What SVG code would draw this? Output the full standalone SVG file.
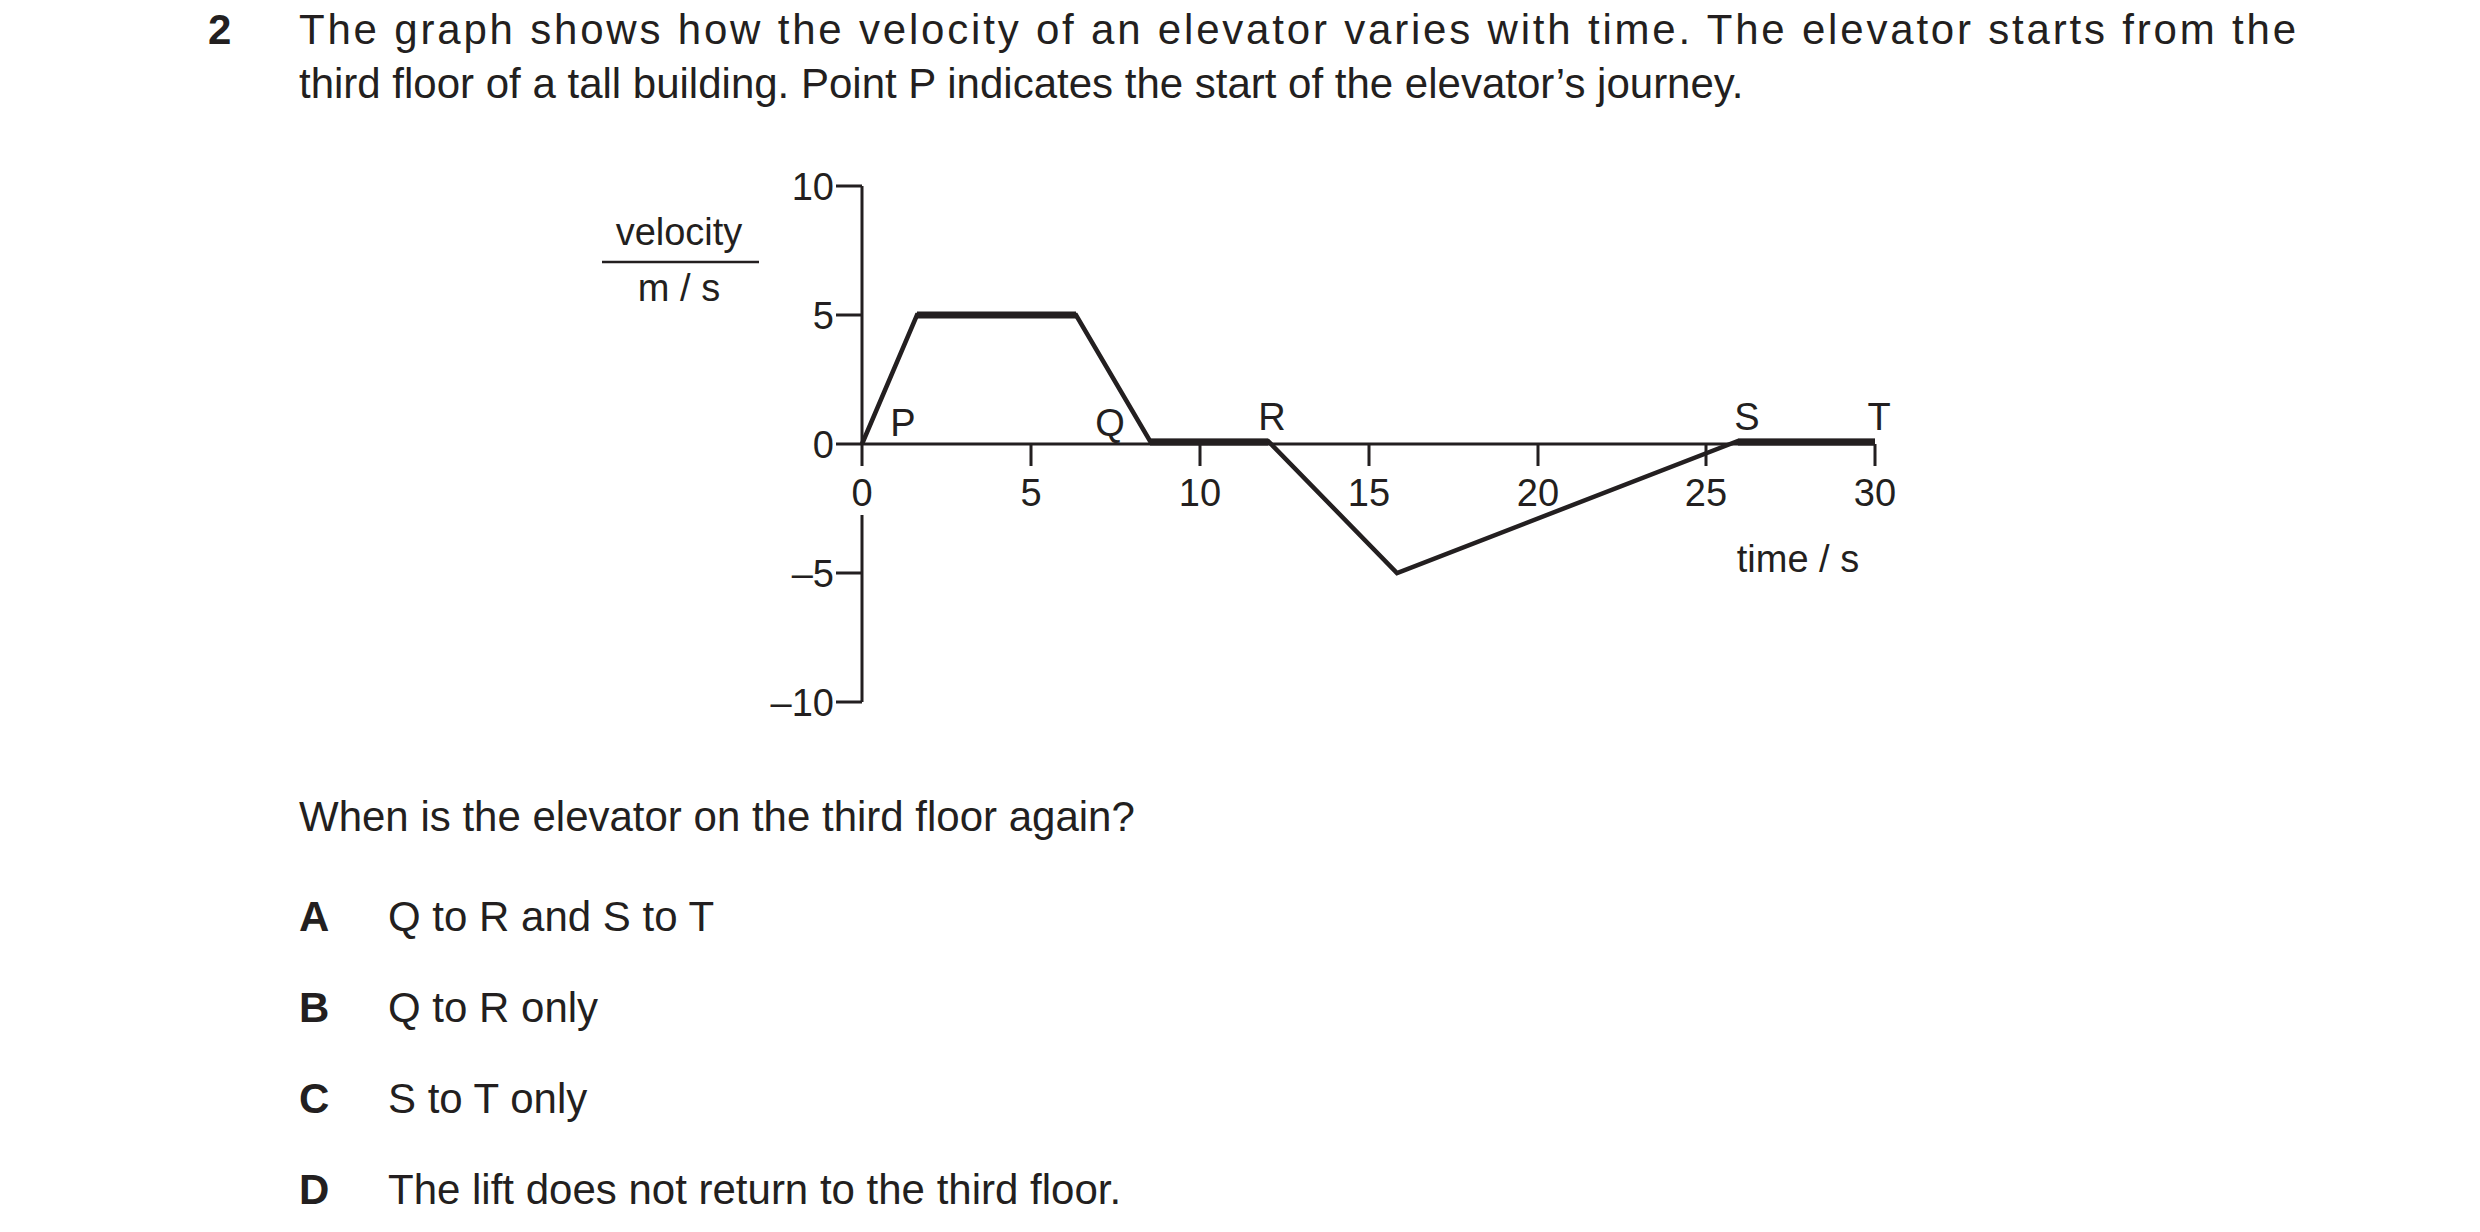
<svg xmlns="http://www.w3.org/2000/svg" width="2480" height="1232" viewBox="0 0 2480 1232">
<style>
text{font-family:"Liberation Sans",Arial,sans-serif;fill:#231f20}
.q{font-size:42px}
.b{font-weight:bold}
.g{font-size:38px}
.m{text-anchor:middle}
.e{text-anchor:end}
.ax{stroke:#231f20;stroke-width:3;fill:none}
.ln{stroke:#231f20;stroke-width:4.5;fill:none;stroke-linejoin:miter}
</style>
<rect width="2480" height="1232" fill="#fff"/>
<g id="question">
<text class="q b" x="208" y="44">2</text>
<text class="q" x="299" y="44" textLength="1997" lengthAdjust="spacing">The graph shows how the velocity of an elevator varies with time. The elevator starts from the</text>
<text class="q" x="299" y="98">third floor of a tall building. Point P indicates the start of the elevator’s journey.</text>
<text class="q" x="299" y="831">When is the elevator on the third floor again?</text>
</g>
<g id="options">
<text class="q b" x="299" y="931">A</text><text class="q" x="388" y="931">Q to R and S to T</text>
<text class="q b" x="299" y="1022">B</text><text class="q" x="388" y="1022">Q to R only</text>
<text class="q b" x="299" y="1113">C</text><text class="q" x="388" y="1113">S to T only</text>
<text class="q b" x="299" y="1204">D</text><text class="q" x="388" y="1204">The lift does not return to the third floor.</text>
</g>
<g id="axes">
<path class="ax" d="M862,186 V466 M862,515 V702 M836,186 H862 M836,315 H862 M836,444 H862 M836,573 H862 M836,702 H862 M862,444 H1875 M862,444 V466 M1031,444 V466 M1200,444 V466 M1369,444 V466 M1538,444 V466 M1706,444 V466 M1875,444 V466"/>
<line x1="602" y1="262" x2="759" y2="262" stroke="#231f20" stroke-width="2.5"/>
<text class="g m" x="679" y="245">velocity</text>
<text class="g m" x="679" y="301">m / s</text>
<text class="g e" x="834" y="200">10</text>
<text class="g e" x="834" y="329">5</text>
<text class="g e" x="834" y="458">0</text>
<text class="g e" x="834" y="587">–5</text>
<text class="g e" x="834" y="716">–10</text>
<text class="g m" x="862" y="506">0</text>
<text class="g m" x="1031" y="506">5</text>
<text class="g m" x="1200" y="506">10</text>
<text class="g m" x="1369" y="506">15</text>
<text class="g m" x="1538" y="506">20</text>
<text class="g m" x="1706" y="506">25</text>
<text class="g m" x="1875" y="506">30</text>
<text class="g m" x="1798" y="572">time / s</text>
</g>
<g id="graph">
<polyline class="ln" points="862,444 917,315 1076,315 1150,441 1268,441 1397,573 1738,441 1875,441"/>
<path d="M917,315 H1076 M1150,442 H1268 M1738,442 H1875" stroke="#231f20" stroke-width="7"/>
</g>
<g id="labels">
<text class="g m" x="903" y="436">P</text>
<text class="g m" x="1110" y="436">Q</text>
<text class="g m" x="1272" y="430">R</text>
<text class="g m" x="1747" y="430">S</text>
<text class="g m" x="1879" y="430">T</text>
</g>
</svg>
